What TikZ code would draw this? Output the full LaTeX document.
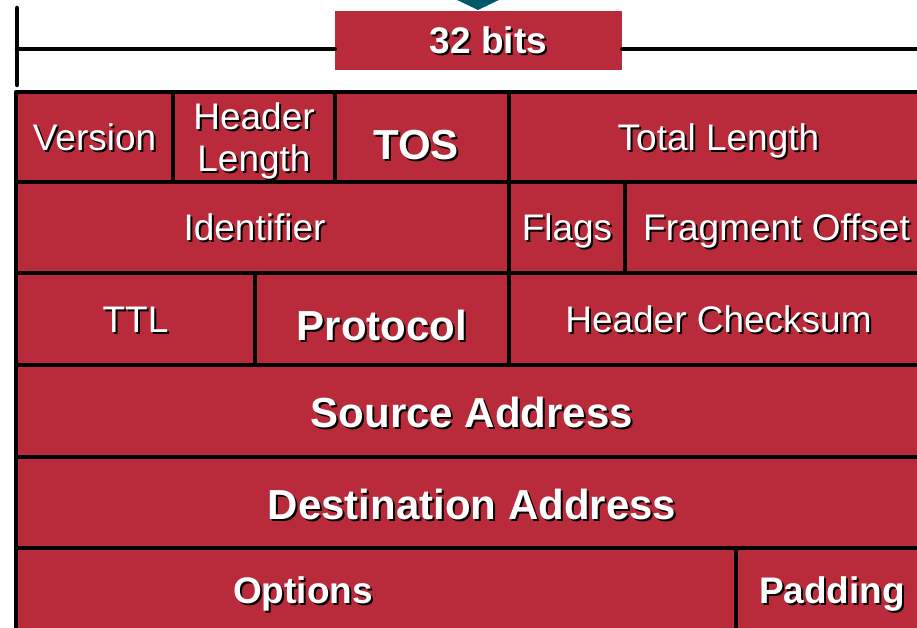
\documentclass[tikz,border=0pt]{standalone}
\usepackage{fontspec}
\setmainfont{Liberation Sans}

\definecolor{ipred}{RGB}{185,43,58}
\definecolor{ipteal}{RGB}{0,88,104}

% white text with a black drop shadow
\newcommand{\shad}[1]{\rlap{\kern2pt\raisebox{-2pt}{\color{black}#1}}#1}
\newcommand{\regfont}{\fontsize{37}{42}\selectfont}
\newcommand{\boldfont}{\fontsize{42}{46}\selectfont\bfseries}

\tikzset{
  cell/.style={draw=black, line width=4.5pt, line join=round, fill=ipred,
    text=white, inner sep=0pt, font=\regfont, text height=26.5pt, text depth=0pt},
  bigcell/.style={cell, font=\boldfont, text height=33pt},
  celltext/.style={text=white, inner sep=0pt, text height=26.5pt, text depth=0pt},
  rule/.style={line width=4.5pt, line cap=round},
}

\begin{document}
\begin{tikzpicture}[x=1pt,y=-1pt]

  \useasboundingbox (0,0) rectangle (917,628);
  \clip (0,0) rectangle (917,628);

  % ruler on top
  \fill[ipteal] (453,-2) -- (503,-2) -- (478,10) -- cycle;
  \node[fill=ipred, minimum width=287, minimum height=59, inner sep=0pt,
    label={[celltext, xshift=10pt, font=\regfont\bfseries]center:\shad{32 bits}}]
    (bits) at (478.5,40.5) {};
  \coordinate (ticktop) at (17,8);
  \coordinate (tickbot) at (17,85);
  \coordinate (tickmid) at (17,49);
  \coordinate (ruleend) at (930,49);
  \draw[rule] (ticktop) -- (tickbot);
  \draw[rule] (tickmid) -- (tickmid -| bits.west);
  \draw[rule] (tickmid -| bits.east) -- (ruleend);

  % row 1
  \node[cell, minimum width=157, minimum height=90] (version) at (94.5,137) {\shad{Version}};
  \node[cell, minimum width=162, minimum height=90, align=center, text height=,
    text depth=0pt] (hlen) at (254,137) {\shad{Header}\\\shad{Length}};
  \node[bigcell, minimum width=174, minimum height=90, text height=46pt,
    label={[celltext, font=\boldfont, text height=46pt, xshift=-6pt]center:\shad{TOS}}]
    (tos) at (422,137) {};
  \node[cell, minimum width=419, minimum height=90] (totlen) at (718.5,137) {\shad{Total Length}};

  % row 2
  \node[cell, minimum width=493, minimum height=91,
    label={[celltext, font=\regfont, xshift=-8pt]center:\shad{Identifier}}]
    (ident) at (262.5,227.5) {};
  \node[cell, minimum width=116, minimum height=91] (flags) at (567,227.5) {\shad{Flags}};
  \node[cell, minimum width=303, minimum height=91] (fragoff) at (776.5,227.5) {\shad{Fragment Offset}};
  \draw[rule] (flags.south east) -- ++(0,7);

  % row 3
  \node[cell, minimum width=239, minimum height=92] (ttl) at (135.5,319) {\shad{TTL}};
  \node[bigcell, minimum width=254, minimum height=92, text height=43pt] (proto) at (382,319) {\shad{Protocol}};
  \node[cell, minimum width=419, minimum height=92] (chksum) at (718.5,319) {\shad{Header Checksum}};

  % rows 4 and 5
  \node[bigcell, minimum width=912, minimum height=92] (srcaddr) at (472,411) {\shad{Source Address}};
  \node[bigcell, minimum width=912, minimum height=91] (dstaddr) at (472,502.5) {\shad{Destination Address}};

  % row 6
  \node[cell, minimum width=720, minimum height=91,
    label={[celltext, xshift=-73pt, font=\regfont\bfseries, text height=19.5pt]center:\shad{Options}}]
    (options) at (376,593.5) {};
  \node[cell, minimum width=192, minimum height=91, font=\regfont\bfseries,
    text height=19.5pt] (padding) at (832,593.5) {\shad{Padding}};

\end{tikzpicture}
\end{document}
